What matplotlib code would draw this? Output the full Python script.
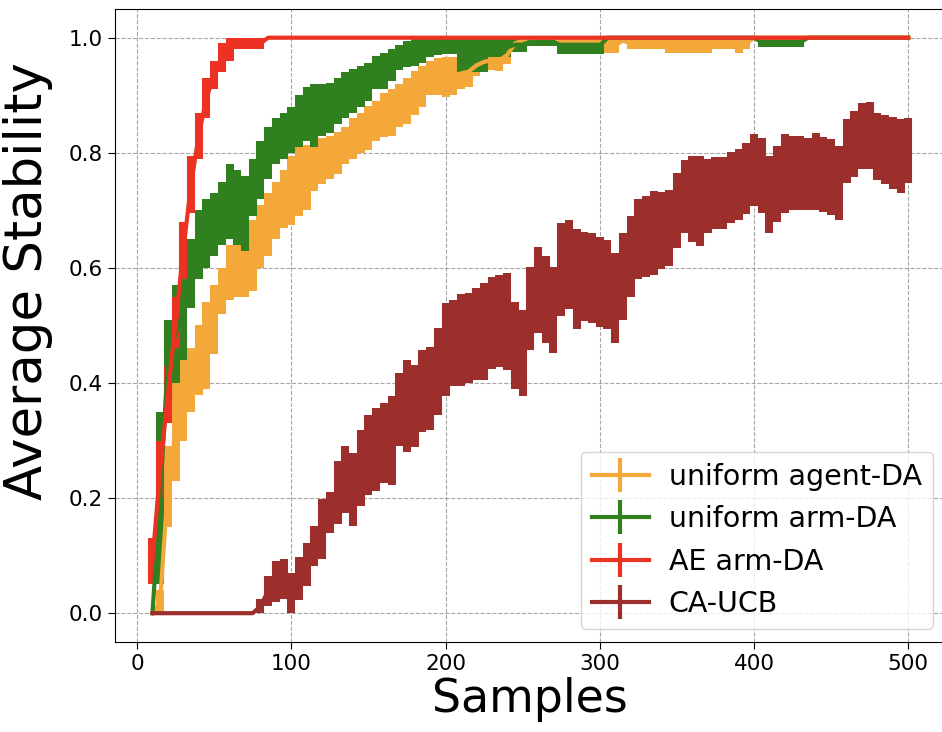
import matplotlib
matplotlib.use("Agg")
import matplotlib.pyplot as plt
from matplotlib.lines import Line2D

# sample counts (every 5 samples, 10..500)
samples = list(range(10, 505, 5))

labels = ["uniform agent-DA", "uniform arm-DA", "AE arm-DA", "CA-UCB"]
colors = ["#F4A83A", "#31801F", "#EC3222", "#9C2F2C"]

agent_da_mean = [
    0.0, 0.02, 0.22, 0.315, 0.37, 0.405, 0.44, 0.465, 0.51, 0.56,
    0.592, 0.598, 0.60, 0.622, 0.655, 0.675, 0.70, 0.72, 0.735, 0.75,
    0.757, 0.778, 0.785, 0.792, 0.80, 0.812, 0.825, 0.835, 0.843, 0.855,
    0.866, 0.87, 0.882, 0.89, 0.904, 0.915, 0.93, 0.932, 0.932, 0.933,
    0.938, 0.941, 0.952, 0.958, 0.961, 0.961, 0.97, 0.99, 0.995, 0.995,
    0.995, 0.995, 0.995, 0.995, 0.995, 0.995, 0.995, 0.995, 0.995, 0.987,
    0.987, 0.995, 0.99, 0.99, 0.99, 0.99, 0.99, 0.987, 0.987, 0.987,
    0.987, 0.987, 0.987, 0.99, 0.99, 0.99, 0.987, 0.99, 1.0, 1.0,
    1.0, 1.0, 1.0, 1.0, 1.0, 1.0, 1.0, 1.0, 1.0, 1.0,
    1.0, 1.0, 1.0, 1.0, 1.0, 1.0, 1.0, 1.0, 1.0,
]
agent_da_err = [
    0.0, 0.02, 0.07, 0.085, 0.07, 0.055, 0.06, 0.075, 0.06, 0.04,
    0.048, 0.048, 0.05, 0.062, 0.055, 0.055, 0.05, 0.05, 0.06, 0.06,
    0.057, 0.044, 0.04, 0.038, 0.036, 0.032, 0.035, 0.035, 0.038, 0.035,
    0.038, 0.04, 0.038, 0.04, 0.039, 0.035, 0.03, 0.032, 0.035, 0.033,
    0.028, 0.026, 0.018, 0.015, 0.017, 0.018, 0.015, 0.01, 0.005, 0.005,
    0.005, 0.005, 0.005, 0.005, 0.005, 0.005, 0.005, 0.005, 0.005, 0.013,
    0.013, 0.005, 0.01, 0.01, 0.01, 0.01, 0.01, 0.013, 0.013, 0.013,
    0.013, 0.013, 0.013, 0.01, 0.01, 0.01, 0.013, 0.01, 0.0, 0.0,
    0.0, 0.0, 0.0, 0.0, 0.0, 0.0, 0.0, 0.0, 0.0, 0.0,
    0.0, 0.0, 0.0, 0.0, 0.0, 0.0, 0.0, 0.0, 0.0,
]

arm_da_mean = [
    0.0, 0.2, 0.44, 0.485, 0.525, 0.59, 0.64, 0.66, 0.675, 0.695,
    0.715, 0.705, 0.695, 0.74, 0.77, 0.80, 0.82, 0.83, 0.84, 0.855,
    0.868, 0.865, 0.875, 0.878, 0.89, 0.90, 0.908, 0.915, 0.923, 0.939,
    0.942, 0.952, 0.966, 0.972, 0.975, 0.978, 0.983, 0.985, 0.986, 0.986,
    0.97, 0.97, 0.97, 0.97, 0.983, 0.983, 0.983, 0.988, 0.988, 0.993,
    0.993, 0.993, 0.993, 0.986, 0.986, 0.986, 0.986, 0.986, 0.986, 1.0,
    1.0, 1.0, 1.0, 1.0, 1.0, 1.0, 1.0, 1.0, 1.0, 1.0,
    1.0, 1.0, 1.0, 1.0, 1.0, 1.0, 1.0, 1.0, 1.0, 0.992,
    0.992, 0.992, 0.992, 0.992, 0.992, 1.0, 1.0, 1.0, 1.0, 1.0,
    1.0, 1.0, 1.0, 1.0, 1.0, 1.0, 1.0, 1.0, 1.0,
]
arm_da_err = [
    0.0, 0.15, 0.07, 0.085, 0.085, 0.06, 0.06, 0.06, 0.055, 0.055,
    0.065, 0.065, 0.065, 0.05, 0.05, 0.045, 0.04, 0.04, 0.04, 0.045,
    0.047, 0.055, 0.045, 0.043, 0.04, 0.04, 0.038, 0.035, 0.033, 0.029,
    0.032, 0.028, 0.022, 0.023, 0.025, 0.022, 0.017, 0.015, 0.014, 0.014,
    0.03, 0.03, 0.03, 0.03, 0.017, 0.017, 0.017, 0.012, 0.012, 0.007,
    0.007, 0.007, 0.007, 0.014, 0.014, 0.014, 0.014, 0.014, 0.014, 0.0,
    0.0, 0.0, 0.0, 0.0, 0.0, 0.0, 0.0, 0.0, 0.0, 0.0,
    0.0, 0.0, 0.0, 0.0, 0.0, 0.0, 0.0, 0.0, 0.0, 0.009,
    0.009, 0.009, 0.009, 0.009, 0.009, 0.0, 0.0, 0.0, 0.0, 0.0,
    0.0, 0.0, 0.0, 0.0, 0.0, 0.0, 0.0, 0.0, 0.0,
]

ae_mean = [
    0.09, 0.25, 0.38, 0.505, 0.63, 0.745, 0.83, 0.895, 0.935, 0.965,
    0.98, 0.99, 0.99, 0.99, 0.99, 1.0, 1.0, 1.0, 1.0, 1.0,
    1.0, 1.0, 1.0, 1.0, 1.0, 1.0, 1.0, 1.0, 1.0, 1.0,
    1.0, 1.0, 1.0, 1.0, 1.0, 1.0, 1.0, 1.0, 1.0, 1.0,
    1.0, 1.0, 1.0, 1.0, 1.0, 1.0, 1.0, 1.0, 1.0, 1.0,
    1.0, 1.0, 1.0, 1.0, 1.0, 1.0, 1.0, 1.0, 1.0, 1.0,
    1.0, 1.0, 1.0, 1.0, 1.0, 1.0, 1.0, 1.0, 1.0, 1.0,
    1.0, 1.0, 1.0, 1.0, 1.0, 1.0, 1.0, 1.0, 1.0, 1.0,
    1.0, 1.0, 1.0, 1.0, 1.0, 1.0, 1.0, 1.0, 1.0, 1.0,
    1.0, 1.0, 1.0, 1.0, 1.0, 1.0, 1.0, 1.0, 1.0,
]
ae_err = [
    0.04, 0.05, 0.05, 0.045, 0.05, 0.05, 0.04, 0.035, 0.025, 0.025,
    0.02, 0.01, 0.01, 0.01, 0.01, 0.0, 0.0, 0.0, 0.0, 0.0,
    0.0, 0.0, 0.0, 0.0, 0.0, 0.0, 0.0, 0.0, 0.0, 0.0,
    0.0, 0.0, 0.0, 0.0, 0.0, 0.0, 0.0, 0.0, 0.0, 0.0,
    0.0, 0.0, 0.0, 0.0, 0.0, 0.0, 0.0, 0.0, 0.0, 0.0,
    0.0, 0.0, 0.0, 0.0, 0.0, 0.0, 0.0, 0.0, 0.0, 0.0,
    0.0, 0.0, 0.0, 0.0, 0.0, 0.0, 0.0, 0.0, 0.0, 0.0,
    0.0, 0.0, 0.0, 0.0, 0.0, 0.0, 0.0, 0.0, 0.0, 0.0,
    0.0, 0.0, 0.0, 0.0, 0.0, 0.0, 0.0, 0.0, 0.0, 0.0,
    0.0, 0.0, 0.0, 0.0, 0.0, 0.0, 0.0, 0.0, 0.0,
]

ucb_mean = [
    0.0, 0.0, 0.0, 0.0, 0.0, 0.0, 0.0, 0.0, 0.0, 0.0,
    0.0, 0.0, 0.0, 0.0, 0.012, 0.039, 0.055, 0.059, 0.035, 0.06,
    0.085, 0.117, 0.146, 0.175, 0.21, 0.232, 0.215, 0.252, 0.275, 0.285,
    0.296, 0.30, 0.354, 0.36, 0.36, 0.386, 0.39, 0.42, 0.458, 0.47,
    0.475, 0.478, 0.485, 0.49, 0.505, 0.507, 0.507, 0.465, 0.452, 0.53,
    0.562, 0.545, 0.527, 0.597, 0.606, 0.58, 0.585, 0.583, 0.575, 0.571,
    0.548, 0.585, 0.62, 0.65, 0.655, 0.66, 0.665, 0.67, 0.70, 0.724,
    0.72, 0.716, 0.725, 0.73, 0.73, 0.74, 0.745, 0.755, 0.77, 0.76,
    0.728, 0.745, 0.764, 0.765, 0.765, 0.763, 0.767, 0.763, 0.758, 0.748,
    0.803, 0.815, 0.829, 0.83, 0.811, 0.805, 0.80, 0.794, 0.804,
]
ucb_err = [
    0.0, 0.0, 0.0, 0.0, 0.0, 0.0, 0.0, 0.0, 0.0, 0.0,
    0.0, 0.0, 0.0, 0.0, 0.012, 0.026, 0.035, 0.035, 0.035, 0.037,
    0.037, 0.035, 0.052, 0.035, 0.055, 0.058, 0.063, 0.066, 0.07, 0.072,
    0.07, 0.078, 0.064, 0.08, 0.072, 0.072, 0.072, 0.075, 0.081, 0.075,
    0.08, 0.078, 0.08, 0.084, 0.08, 0.08, 0.084, 0.075, 0.075, 0.072,
    0.075, 0.075, 0.075, 0.081, 0.078, 0.087, 0.078, 0.078, 0.078, 0.078,
    0.078, 0.075, 0.07, 0.07, 0.07, 0.073, 0.067, 0.066, 0.065, 0.064,
    0.075, 0.078, 0.065, 0.063, 0.063, 0.062, 0.061, 0.062, 0.063, 0.065,
    0.067, 0.066, 0.068, 0.065, 0.065, 0.063, 0.067, 0.065, 0.066, 0.064,
    0.055, 0.057, 0.058, 0.058, 0.058, 0.06, 0.063, 0.064, 0.056,
]

means = [agent_da_mean, arm_da_mean, ae_mean, ucb_mean]
errs = [agent_da_err, arm_da_err, ae_err, ucb_err]

fig = plt.figure(figsize=(9.42, 7.32), dpi=100)
ax = fig.add_axes([0.1217, 0.123, 0.8826, 0.8648])

for m, e, c in zip(means, errs, colors):
    ax.errorbar(samples, m, yerr=e, color=c, lw=3, elinewidth=5.8, capsize=0)

ax.set_xlim(-14.5, 524.5)
ax.set_ylim(-0.05, 1.05)
ax.set_xticks([0, 100, 200, 300, 400, 500])
ax.set_yticks([0.0, 0.2, 0.4, 0.6, 0.8, 1.0])
ax.tick_params(labelsize=15.5, length=5)
ax.grid(True, linestyle="--", color="gray", linewidth=0.8, alpha=0.7)

ax.set_xlabel("Samples", fontsize=33, labelpad=2)
ax.set_ylabel("Average Stability", fontsize=37)
ax.yaxis.set_label_coords(-0.074, 0.57)

handles = [Line2D([], [], color=c, lw=3, marker="|", markersize=24, markeredgewidth=3)
           for c in colors]
ax.legend(handles, labels, loc="lower right", fontsize=20.5, handlelength=2.0,
          handletextpad=0.7, borderaxespad=0.45)

fig.savefig("out.png", dpi=100)
plt.close(fig)
